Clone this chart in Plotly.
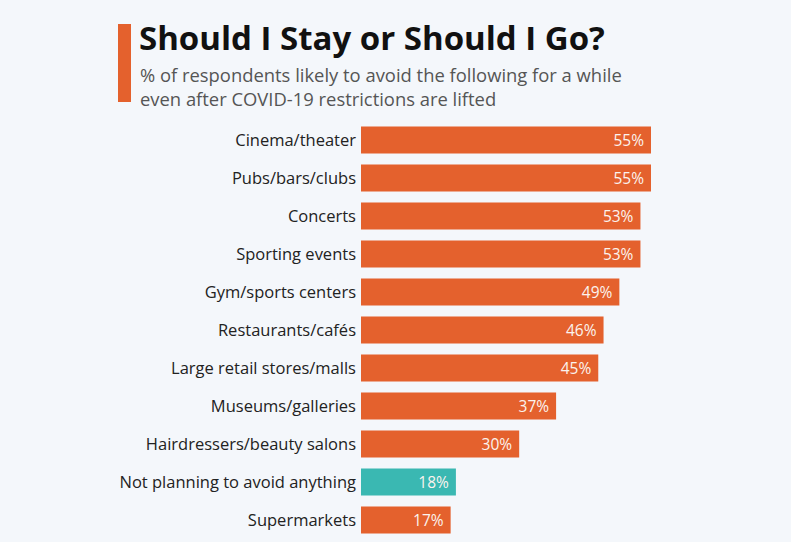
import plotly.graph_objects as go

categories = ["Cinema/theater", "Pubs/bars/clubs", "Concerts", "Sporting events",
              "Gym/sports centers", "Restaurants/cafés", "Large retail stores/malls",
              "Museums/galleries", "Hairdressers/beauty salons",
              "Not planning to avoid anything", "Supermarkets"]
values = [55, 55, 53, 53, 49, 46, 45, 37, 30, 18, 17]
labels = [f"{v}%" for v in values]
ORANGE = "#e4612d"
TEAL = "#3ab8b2"
BG = "#f4f7fb"
colors = [TEAL if c.startswith("Not planning") else ORANGE for c in categories]

W, H = 791, 542
L, R, T, B = 361, 140, 121, 3
pw, ph = W - L - R, H - T - B

def px(x):
    return (x - L) / pw

def py(y):
    return (H - B - y) / ph

fig = go.Figure(go.Bar(
    x=values, y=categories, orientation="h",
    marker=dict(color=colors, line=dict(width=0)),
    text=[l + " " for l in labels], textposition="inside", insidetextanchor="end",
    constraintext="none",
    textfont=dict(color="#fbf3ee", size=15.5, family="Open Sans"),
    cliponaxis=False, hoverinfo="skip",
))

fig.update_layout(
    width=W, height=H,
    margin=dict(l=L, r=R, t=T, b=B),
    paper_bgcolor=BG, plot_bgcolor=BG,
    bargap=0.29, showlegend=False,
    font=dict(family="Open Sans", color="#222"),
    xaxis=dict(range=[0, 55], visible=False, fixedrange=True),
    yaxis=dict(autorange="reversed", showgrid=False, zeroline=False, showline=False,
               ticks="", tickfont=dict(size=16.5, color="#222", family="Open Sans"),
               ticklabelstandoff=4, fixedrange=True),
    shapes=[dict(type="rect", xref="paper", yref="paper",
                 x0=px(118), x1=px(131), y0=py(102), y1=py(24),
                 fillcolor=ORANGE, line=dict(width=0))],
    annotations=[
        dict(xref="paper", yref="paper", x=px(137), y=py(37), xanchor="left", yanchor="middle",
             text="<b>Should I Stay or Should I Go?</b>", showarrow=False,
             font=dict(size=33, color="#111", family="Open Sans")),
        dict(xref="paper", yref="paper", x=px(138), y=py(86), xanchor="left", yanchor="middle",
             text="% of respondents likely to avoid the following for a while<br>even after COVID-19 restrictions are lifted",
             showarrow=False, align="left",
             font=dict(size=18.4, color="#555", family="Open Sans")),
    ],
)

fig.write_html("out.html", config={"displayModeBar": False},
               post_script=f"document.body.style.margin='0';document.body.style.background='{BG}';")
